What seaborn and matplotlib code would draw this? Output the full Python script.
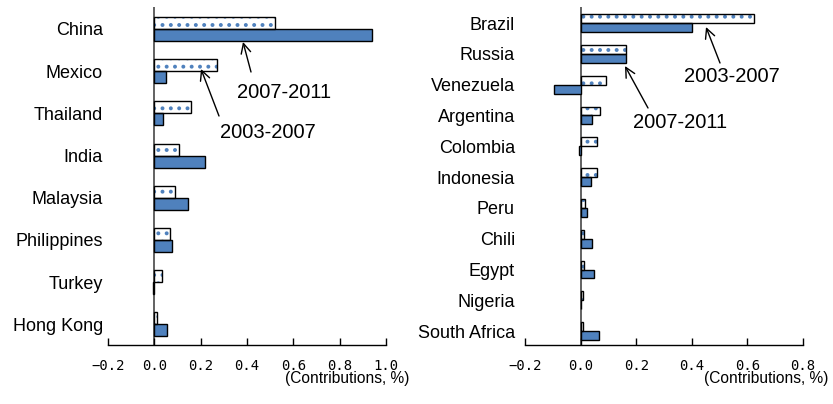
import matplotlib
matplotlib.use("Agg")
import matplotlib.pyplot as plt
import matplotlib.patches as mpatches
import seaborn as sns
import pandas as pd

# ---------------- data ----------------
left_countries = ["China", "Mexico", "Thailand", "India", "Malaysia",
                  "Philippines", "Turkey", "Hong Kong"]
left_2003_2007 = [0.52, 0.27, 0.16, 0.107, 0.088, 0.069, 0.035, 0.01]
left_2007_2011 = [0.94, 0.05, 0.037, 0.22, 0.145, 0.078, -0.005, 0.053]

right_countries = ["Brazil", "Russia", "Venezuela", "Argentina", "Colombia",
                   "Indonesia", "Peru", "Chili", "Egypt", "Nigeria",
                   "South Africa"]
right_2003_2007 = [0.623, 0.164, 0.092, 0.068, 0.06, 0.06, 0.016, 0.012,
                   0.012, 0.007, 0.007]
right_2007_2011 = [0.402, 0.164, -0.096, 0.040, -0.006, 0.036, 0.024, 0.04,
                   0.049, 0.003, 0.065]

periods = ["2003-2007", "2007-2011"]
left_ticks = [-0.2, 0.0, 0.2, 0.4, 0.6, 0.8, 1.0]
right_ticks = [-0.2, 0.0, 0.2, 0.4, 0.6, 0.8]
tick_labels_left = ["−0.2", "0.0", "0.2", "0.4", "0.6", "0.8", "1.0"]
tick_labels_right = ["−0.2", "0.0", "0.2", "0.4", "0.6", "0.8"]
unit_label = "(Contributions, %)"

BLUE = "#4F81BD"

sns.set_theme(style="white")
plt.rcParams["font.family"] = ["Liberation Sans", "DejaVu Sans"]
for k in ["text.color", "xtick.color", "ytick.color", "axes.labelcolor"]:
    plt.rcParams[k] = "black"
plt.rcParams["hatch.linewidth"] = 1.6
plt.rcParams["hatch.color"] = BLUE

W, H = 833, 404
fig = plt.figure(figsize=(W / 100, H / 100), dpi=100)


def make_df(countries, a, b):
    rows = []
    for c, v in zip(countries, a):
        rows.append({"country": c, "period": periods[0], "value": v})
    for c, v in zip(countries, b):
        rows.append({"country": c, "period": periods[1], "value": v})
    return pd.DataFrame(rows)


def panel(rect, countries, a, b, xlim, ticks, tlabels, width, ylim, ypad):
    ax = fig.add_axes(rect)
    df = make_df(countries, a, b)
    sns.barplot(data=df, y="country", x="value", hue="period", orient="h",
                order=countries, hue_order=periods,
                palette={periods[0]: "white", periods[1]: BLUE},
                saturation=1, width=width, edgecolor="black", linewidth=1.0,
                legend=False, ax=ax, errorbar=None)
    for p in list(ax.containers[0]):
        # blue dotted fill, with a separate black outline on top
        p.set_hatch("..")
        p.set_edgecolor(BLUE)
        p.set_linewidth(0)
        outline = mpatches.Rectangle(p.get_xy(), p.get_width(), p.get_height(),
                                     fill=False, edgecolor="black", lw=1.0,
                                     zorder=p.get_zorder() + 0.1)
        ax.add_patch(outline)
    ax.set_xlim(*xlim)
    ax.set_ylim(*ylim)
    ax.axvline(0, color="#555555", lw=1.3, zorder=0.5)
    for s in ["left", "right", "top"]:
        ax.spines[s].set_visible(False)
    ax.spines["bottom"].set_color("black")
    ax.spines["bottom"].set_linewidth(1.0)
    ax.set_xticks(ticks)
    ax.set_xticklabels(tlabels, fontfamily="DejaVu Sans Mono", fontsize=10)
    ax.tick_params(axis="x", direction="in", length=5, width=1,
                   color="black", pad=10, bottom=True)
    ax.tick_params(axis="y", length=0, pad=ypad, labelsize=13)
    ax.set_xlabel("")
    ax.set_ylabel("")
    ax.grid(False)
    return ax


ax1 = panel([108 / W, 59 / H, 278 / W, 338 / H], left_countries,
            left_2003_2007, left_2007_2011, (-0.2, 1.0), left_ticks,
            tick_labels_left, 0.57, (7.49, -0.52), 3.6)
ax2 = panel([525 / W, 59 / H, 278 / W, 338 / H], right_countries,
            right_2003_2007, right_2007_2011, (-0.2, 0.8), right_ticks,
            tick_labels_right, 0.58, (10.45, -0.52), 7.2)

fig.text(409 / W, 25 / H, unit_label, ha="right", va="center", fontsize=11.2)
fig.text(828 / W, 25 / H, unit_label, ha="right", va="center", fontsize=11.2)


def fp(x, y):
    return (x / W, (H - y) / H)


def arrow(tail, tip):
    fig.add_artist(mpatches.FancyArrowPatch(
        fp(*tail), fp(*tip), transform=fig.transFigure,
        arrowstyle="->,head_length=7,head_width=3.5", lw=1.0, color="black",
        shrinkA=0, shrinkB=0))


def label(x, y, s):
    fig.text(x / W, (H - y) / H, s, ha="left", va="center", fontsize=14.5)


label(237, 93, "2007-2011")
arrow((251, 72), (243, 42))
label(220, 132, "2003-2007")
arrow((219, 116), (201, 69))
label(684, 77, "2003-2007")
arrow((720, 63), (706, 27))
label(633, 123, "2007-2011")
arrow((648, 108), (625, 66))

fig.savefig("out.png", dpi=100)
